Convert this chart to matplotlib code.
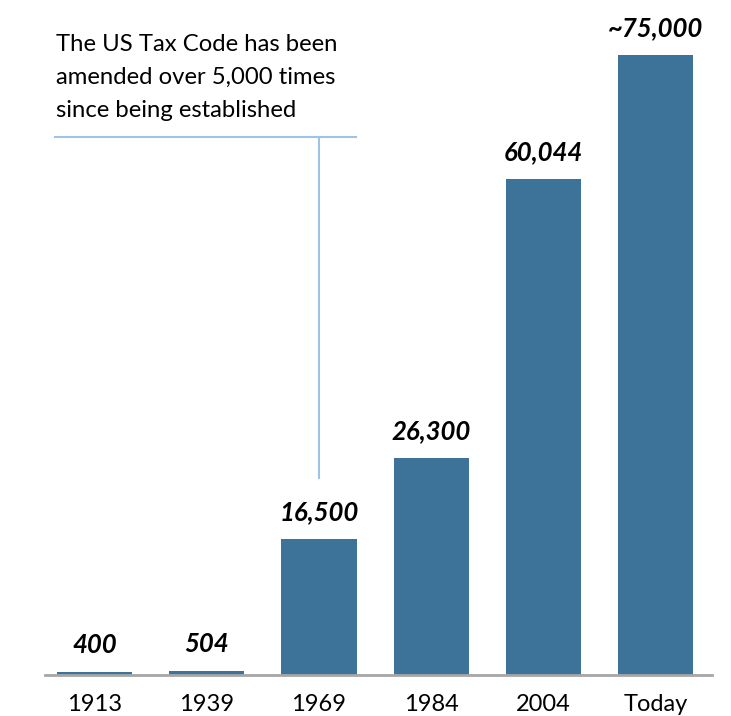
import matplotlib
matplotlib.use("Agg")
import matplotlib.pyplot as plt

categories = ["1913", "1939", "1969", "1984", "2004", "Today"]
values = [400, 504, 16500, 26300, 60044, 75000]
labels = ["400", "504", "16,500", "26,300", "60,044", "~75,000"]
note = "The US Tax Code has been\namended over 5,000 times\nsince being established"

plt.rcParams['font.family'] = ['Lato', 'DejaVu Sans']

fig = plt.figure(figsize=(7.31, 7.16), dpi=100)
ax = fig.add_axes([45/731, 41/716, (712-45)/731, 1 - 41/716])

x = list(range(len(categories)))
bars = ax.bar(x, values, width=0.67, color="#3D7299")

ax.set_xlim(-0.44, 5.5)
ax.set_ylim(0, 75000 * 675 / 620)

for xi, v, lab in zip(x, values, labels):
    ax.annotate(lab, (xi, v), xytext=(0, 10.5), textcoords="offset points",
                ha="center", va="bottom", fontsize=18.5, fontweight="bold",
                fontstyle="italic", color="black")

for s in ["top", "right", "left"]:
    ax.spines[s].set_visible(False)
ax.spines["bottom"].set_color("#A6A6A6")
ax.spines["bottom"].set_linewidth(2)
ax.set_yticks([])
ax.set_xticks(x)
ax.set_xticklabels(categories, fontsize=17)
ax.tick_params(axis="x", length=0, pad=14)

# annotation bracket
ax.plot([-0.35, 2.33], [65080, 65080], color="#9DC3E6", lw=1.5, clip_on=False)
ax.plot([2, 2], [65080, 23830], color="#9DC3E6", lw=1.5, clip_on=False)
fig.text(56/731, 1 - 34/716, note, fontsize=17.2, va="top", ha="left",
         linespacing=1.72, color="black")

fig.savefig("out.png", dpi=100)
